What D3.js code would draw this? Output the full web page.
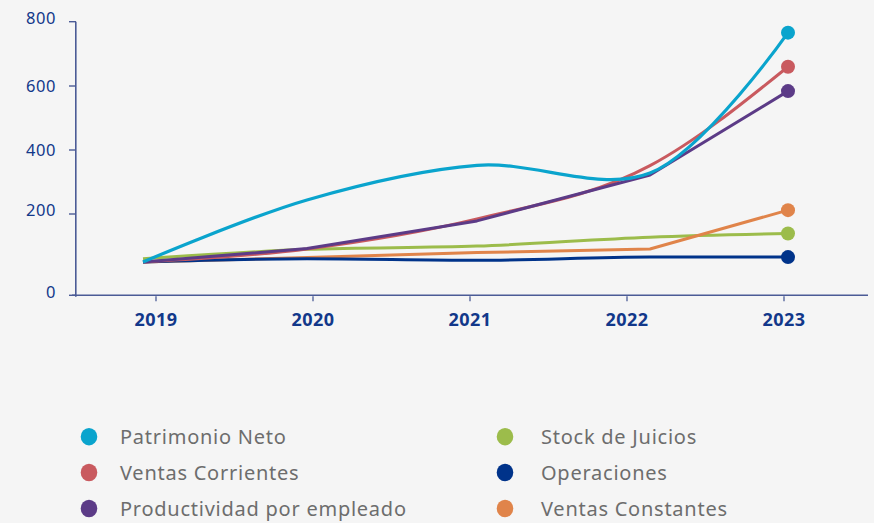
<!DOCTYPE html>
<html>
<head>
<meta charset="utf-8">
<script src="https://cdn.jsdelivr.net/npm/d3@7"></script>
<style>
  html, body { margin: 0; padding: 0; background: #f5f5f5; }
  svg { display: block; }
</style>
</head>
<body>
<svg id="chart" width="874" height="523"></svg>
<script>
// ---- data ----
const years = [2019, 2020, 2021, 2022, 2023];
const yTickValues = [0, 200, 400, 600, 800];
const seriesNames = ["Patrimonio Neto", "Ventas Corrientes", "Productividad por empleado",
                     "Stock de Juicios", "Operaciones", "Ventas Constantes"];
const patrimonioNeto        = [82, 244, 352, 328, 766];
const ventasCorrientes      = [82, 114, 188, 351, 660];
const productividadEmpleado = [82, 115, 183, 322, 584];
const stockJuicios          = [90, 113, 121, 143, 152];
const operaciones           = [82, 90, 86, 94, 94];
const ventasConstantes      = [82, 93, 105, 114, 212];
const seriesColors = ["#0aa4cd", "#c95a5f", "#5c3b87", "#9cbc4b", "#00338a", "#e0844a"];

const seriesValues = [patrimonioNeto, ventasCorrientes, productividadEmpleado,
                      stockJuicios, operaciones, ventasConstantes];
const curves = [d3.curveCatmullRom, d3.curveMonotoneX, d3.curveLinear,
                d3.curveMonotoneX, d3.curveMonotoneX, d3.curveLinear];

// ---- layout ----
const svg = d3.select("#chart");
const FONT = "'Noto Sans', sans-serif";
const axisColor = "#4b5b96";
const labelColor = "#12388a";

const xAxisScale = d3.scalePoint().domain(years).range([156, 784]);
const xLine = d3.scaleLinear().domain(years).range([143, 307, 477, 650, 788]);
const y = d3.scaleLinear().domain(yTickValues).range([295.3, 214, 150, 86, 21.7]);

// axes
svg.append("line").attr("x1", 72).attr("x2", 868)
  .attr("y1", y(0)).attr("y2", y(0))
  .attr("stroke", axisColor).attr("stroke-width", 1.6);
svg.append("line").attr("x1", 75.8).attr("x2", 75.8)
  .attr("y1", y(800)).attr("y2", y(0) + 1.5)
  .attr("stroke", axisColor).attr("stroke-width", 1.6);

const yt = svg.append("g").selectAll("g").data(yTickValues).join("g");
yt.append("line").attr("x1", 69).attr("x2", 76)
  .attr("y1", d => y(d)).attr("y2", d => y(d))
  .attr("stroke", axisColor).attr("stroke-width", 1.4);
yt.append("text").attr("x", 56).attr("y", d => y(d) - (d === 600 || d === 400 ? 0 : 3.5))
  .attr("dy", "0.35em").attr("text-anchor", "end")
  .attr("font-family", FONT).attr("font-size", 16.5).attr("letter-spacing", 0.6)
  .attr("fill", labelColor).text(d => d);

const xt = svg.append("g").selectAll("g").data(years).join("g");
xt.append("line").attr("x1", d => xAxisScale(d)).attr("x2", d => xAxisScale(d))
  .attr("y1", y(0) + 1).attr("y2", y(0) + 6)
  .attr("stroke", axisColor).attr("stroke-width", 1.3);
xt.append("text").attr("x", d => xAxisScale(d)).attr("y", 320)
  .attr("dy", "0.35em").attr("text-anchor", "middle")
  .attr("font-family", FONT).attr("font-weight", 700).attr("font-size", 18)
  .attr("letter-spacing", 0.4)
  .attr("fill", labelColor).text(d => d);

// lines
const order = [3, 5, 4, 1, 2, 0];
order.forEach(i => {
  const line = d3.line().x((d, j) => xLine(years[j])).y(d => y(d)).curve(curves[i]);
  svg.append("path").datum(seriesValues[i])
    .attr("d", line).attr("fill", "none")
    .attr("stroke", seriesColors[i]).attr("stroke-width", i === 0 ? 3.2 : 3)
    .attr("stroke-linejoin", "round");
});
order.forEach(i => {
  const last = years.length - 1;
  svg.append("circle").attr("cx", xLine(years[last])).attr("cy", y(seriesValues[i][last]))
    .attr("r", 7).attr("fill", seriesColors[i]);
});

// legend
const legCols = [89, 505];
const legTextOffset = [31, 36];
const legRows = [436.7, 472.5, 508.5];
const legendOrder = [0, 1, 2, 3, 4, 5];
const leg = svg.append("g").selectAll("g").data(legendOrder).join("g")
  .attr("transform", (d, k) => `translate(${legCols[Math.floor(k / 3)]},${legRows[k % 3]})`);
leg.append("ellipse").attr("rx", 8.3).attr("ry", 8.7).attr("fill", d => seriesColors[d]);
leg.append("text").attr("x", (d, k) => legTextOffset[Math.floor(k / 3)]).attr("dy", "0.35em")
  .attr("font-family", FONT).attr("font-size", 20).attr("letter-spacing", 0.75)
  .attr("fill", "#6d6d6d").text(d => seriesNames[d]);
</script>
</body>
</html>
